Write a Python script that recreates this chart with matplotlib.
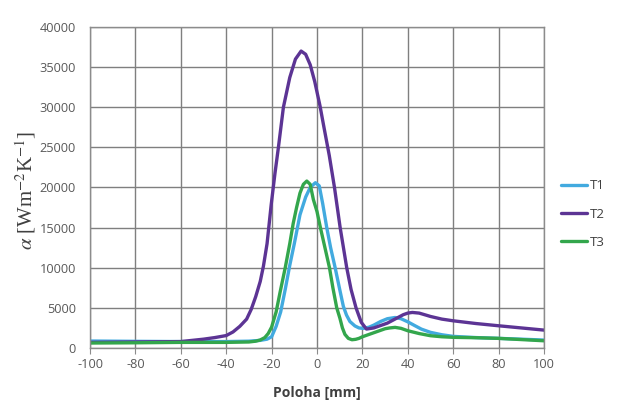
import matplotlib
matplotlib.use("Agg")
import matplotlib.pyplot as plt

# --- data ---
t1_x = [-100, -80, -60, -40, -30, -25, -22, -20, -18, -16, -14, -12, -10, -7.5, -5, -3, -0.7, 1, 2.5,
        4.3, 6, 8, 10, 11.6, 13, 14.5, 16.7, 18.5, 20.4, 23, 25, 28, 31, 34.4, 37, 40, 43, 46, 50, 55, 60, 70, 80, 90, 100]
t1_y = [870, 830, 800, 800, 850, 950, 1100, 1400, 2700, 4500, 7300, 10300, 13000, 16600, 18800, 20000, 20600, 20200, 18000,
        15000, 12500, 10000, 7300, 5200, 4100, 3300, 2750, 2500, 2440, 2600, 2850, 3300, 3650, 3800, 3650, 3260, 2800, 2350, 1950, 1650, 1450, 1300, 1200, 1100, 990]

t2_x = [-100, -80, -60, -50, -45, -40, -37, -34, -31, -29, -27, -25, -23.6, -22, -20.2, -18.5, -17, -14.8, -12, -9.5, -7,
        -5, -3, -1, 1.3, 3, 5.4, 7.7, 10.2, 13.1, 15, 17.2, 19.5, 21.8, 25, 28, 31, 35, 38, 40, 42, 45, 48, 50, 55, 60, 70, 80, 90, 100]
t2_y = [700, 750, 800, 1100, 1300, 1550, 2000, 2700, 3600, 4800, 6400, 8300, 10200, 13000, 17800, 21800, 25000, 30000, 33700, 36000, 37000,
        36600, 35300, 33200, 30200, 27600, 24000, 20000, 15000, 10000, 7300, 5000, 3200, 2360, 2500, 2800, 3100, 3700, 4150, 4350, 4430, 4350, 4100, 3930, 3600, 3390, 3050, 2770, 2500, 2230]

t3_x = [-100, -80, -60, -40, -30, -27, -25, -23, -21.5, -20, -18, -16.3, -14, -12, -10.5, -9, -7.5, -6, -4.5, -3, -1.6, 0, 1.5,
        3.5, 5.5, 7, 8.7, 10.1, 11.2, 12.3, 13.8, 15.4, 17, 18.5, 20, 22.5, 25, 28, 30, 32, 34.4, 37, 40, 45, 50, 55, 60, 70, 80, 90, 100]
t3_y = [620, 650, 700, 700, 750, 850, 1000, 1300, 1800, 2600, 4500, 6900, 10000, 13000, 15500, 17500, 19300, 20400, 20800, 20400, 18500, 17000, 15000,
        12500, 10000, 7500, 5000, 3700, 2500, 1700, 1200, 1030, 1080, 1200, 1400, 1650, 1900, 2200, 2400, 2500, 2570, 2450, 2150, 1800, 1530, 1400, 1330, 1280, 1200, 1050, 900]

series_names = ["T1", "T2", "T3"]
x_ticks = [-100, -80, -60, -40, -20, 0, 20, 40, 60, 80, 100]
y_ticks = [0, 5000, 10000, 15000, 20000, 25000, 30000, 35000, 40000]

colors = ["#42aadf", "#5c3494", "#33a64c"]

plt.rcParams["axes.unicode_minus"] = False
plt.rcParams["mathtext.fontset"] = "stix"
plt.rcParams["font.family"] = ["Open Sans", "DejaVu Sans"]

fig = plt.figure(figsize=(6.29, 4.0), dpi=100)
ax = fig.add_axes([90 / 629, 52 / 400, 454 / 629, 321 / 400])

for xs, ys, c, n in zip([t1_x, t2_x, t3_x], [t1_y, t2_y, t3_y], colors, series_names):
    ax.plot(xs, ys, color=c, lw=2.4, label=n, solid_joinstyle="round", solid_capstyle="round")

ax.set_xlim(-100, 100)
ax.set_ylim(0, 40000)
ax.set_xticks(x_ticks)
ax.set_yticks(y_ticks)
ax.grid(True, color="#7f7f7f", lw=1.0)
ax.set_axisbelow(True)
for s in ax.spines.values():
    s.set_color("#8c8c8c")
    s.set_linewidth(1.0)
ax.tick_params(axis="both", length=4, color="#8c8c8c", labelsize=9.2, labelcolor="#595959")
ax.tick_params(axis="y", length=0, pad=10)
ax.tick_params(axis="x", pad=3)

ax.set_xlabel("Poloha [mm]", fontsize=10, fontweight="bold", color="#404040", labelpad=11)
ax.set_ylabel(r"$\alpha$ [Wm$^{-2}$K$^{-1}$]", fontsize=15, family="Liberation Serif",
              color="#404040")
ax.yaxis.set_label_coords(-52 / 454, 0.49)

handles, labels = ax.get_legend_handles_labels()
fig.legend(handles, labels, loc="center left", bbox_to_anchor=(549 / 629, 1 - 214 / 400),
           frameon=False, fontsize=9.5, handlelength=2.0, labelspacing=1.15, handletextpad=0.2,
           labelcolor="#404040")

fig.savefig("out.png", dpi=100)
